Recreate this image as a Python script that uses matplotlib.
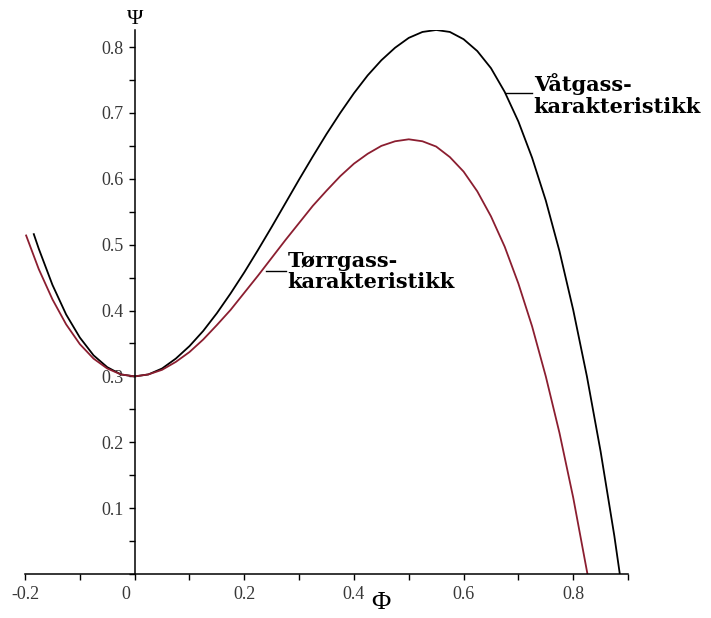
import matplotlib
matplotlib.use('Agg')
import matplotlib.pyplot as plt
from matplotlib.ticker import MultipleLocator
import matplotlib.transforms as mtransforms

plt.rcParams['font.family'] = ['Liberation Serif', 'DejaVu Serif']

# Våtgass-karakteristikk (svart)
phi_vaat = [-0.184, -0.175, -0.15, -0.125, -0.1, -0.075, -0.05, -0.025, 0.0,
            0.025, 0.05, 0.075, 0.1, 0.125, 0.15, 0.175, 0.2, 0.225, 0.25,
            0.275, 0.3, 0.325, 0.35, 0.375, 0.4, 0.425, 0.45, 0.475, 0.5,
            0.525, 0.55, 0.575, 0.6, 0.625, 0.65, 0.675, 0.7, 0.725, 0.75,
            0.775, 0.8, 0.825, 0.85, 0.875, 0.885]
psi_vaat = [0.516, 0.494, 0.439, 0.394, 0.359, 0.332, 0.314, 0.303, 0.300,
            0.303, 0.312, 0.327, 0.346, 0.369, 0.396, 0.426, 0.458, 0.492, 0.527,
            0.563, 0.599, 0.634, 0.668, 0.700, 0.730, 0.757, 0.780, 0.799, 0.814,
            0.823, 0.826, 0.823, 0.812, 0.794, 0.768, 0.732, 0.687, 0.632, 0.567,
            0.490, 0.401, 0.300, 0.186, 0.058, 0.0]

# Tørrgass-karakteristikk (rød)
phi_torr = [-0.198, -0.175, -0.15, -0.125, -0.1, -0.075, -0.05, -0.025, 0.0,
            0.025, 0.05, 0.075, 0.1, 0.125, 0.15, 0.175, 0.2, 0.225, 0.25,
            0.275, 0.3, 0.325, 0.35, 0.375, 0.4, 0.425, 0.45, 0.475, 0.5,
            0.525, 0.55, 0.575, 0.6, 0.625, 0.65, 0.675, 0.7, 0.725, 0.75,
            0.775, 0.8, 0.826]
psi_torr = [0.514, 0.463, 0.417, 0.379, 0.349, 0.327, 0.312, 0.303, 0.300,
            0.303, 0.310, 0.322, 0.337, 0.356, 0.378, 0.401, 0.427, 0.453, 0.480,
            0.507, 0.533, 0.559, 0.582, 0.604, 0.623, 0.638, 0.650, 0.657, 0.660,
            0.657, 0.649, 0.633, 0.611, 0.581, 0.543, 0.497, 0.441, 0.376, 0.300,
            0.214, 0.116, 0.0]

x_ticks = [-0.2, 0, 0.2, 0.4, 0.6, 0.8]
x_labels = ['-0.2', '0', '0.2', '0.4', '0.6', '0.8']
y_ticks = [0.1, 0.2, 0.3, 0.4, 0.5, 0.6, 0.7, 0.8]
y_labels = ['0.1', '0.2', '0.3', '0.4', '0.5', '0.6', '0.7', '0.8']

fig = plt.figure(figsize=(7.11, 6.18), dpi=100)
ax = fig.add_axes([0.0352, 0.0712, 0.8481, 0.8803])

ax.plot(phi_vaat, psi_vaat, color='black', lw=1.3)
ax.plot(phi_torr, psi_torr, color='#8b1e30', lw=1.3)

ax.set_xlim(-0.2, 0.9)
ax.set_ylim(0, 0.826)

# akser gjennom origo
ax.spines['top'].set_visible(False)
ax.spines['right'].set_visible(False)
ax.spines['left'].set_position(('data', 0))
ax.spines['bottom'].set_position(('data', 0))
ax.spines['left'].set_linewidth(1.1)
ax.spines['bottom'].set_linewidth(1.1)

ax.set_xticks(x_ticks)
ax.set_xticklabels(x_labels)
ax.set_yticks(y_ticks)
ax.set_yticklabels(y_labels)
ax.xaxis.set_minor_locator(MultipleLocator(0.1))
ax.yaxis.set_minor_locator(MultipleLocator(0.05))
ax.tick_params(which='both', direction='out', length=4, width=1.0, colors='black',
               labelcolor='#383838', labelsize=13)
ax.tick_params(axis='x', pad=5)
ax.tick_params(axis='y', pad=4)

# "0" litt til venstre som i originalen
for lab in ax.get_xticklabels():
    if lab.get_text() == '0':
        lab.set_transform(lab.get_transform() +
                          mtransforms.ScaledTranslation(-9 / 100, 0, fig.dpi_scale_trans))

ax.text(0, 0.842, 'Ψ', fontsize=16, ha='center', va='center', clip_on=False)
ax.text(0.449, -0.044, 'Φ', fontsize=19, ha='center', va='center', clip_on=False)

# etiketter med strek
ax.plot([0.677, 0.725], [0.730, 0.730], color='black', lw=1.0)
ax.text(0.728, 0.727, 'Våtgass-\nkarakteristikk', family=['DejaVu Serif'],
        fontweight='bold', fontsize=15, ha='left', va='center', linespacing=1.1)
ax.plot([0.239, 0.276], [0.460, 0.460], color='black', lw=1.0)
ax.text(0.279, 0.459, 'Tørrgass-\nkarakteristikk', family=['DejaVu Serif'],
        fontweight='bold', fontsize=15, ha='left', va='center', linespacing=1.1)

plt.savefig('out.png', dpi=100, facecolor='white')
